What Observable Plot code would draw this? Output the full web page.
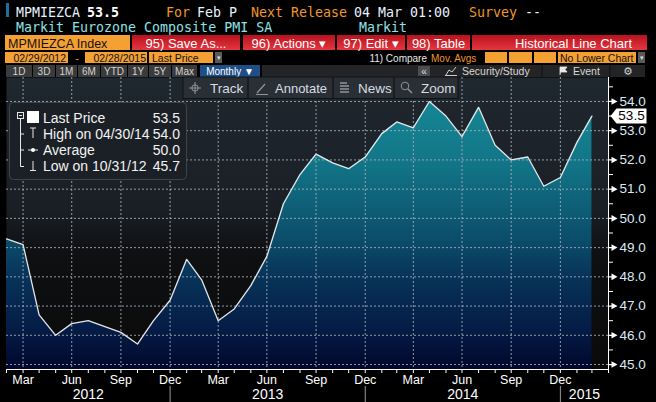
<!DOCTYPE html>
<html>
<head>
<meta charset="utf-8">
<script src="https://cdn.jsdelivr.net/npm/d3@7"></script>
<script src="https://cdn.jsdelivr.net/npm/@observablehq/plot@0.6"></script>
<style>
  html, body { margin: 0; padding: 0; background: #000; }
  #page { position: relative; width: 656px; height: 402px; overflow: hidden; background: #000; }
  #chart { position: absolute; left: 0; top: 77px; width: 656px; height: 325px; }
  #overlay { position: absolute; left: 0; top: 0; pointer-events: none; }
</style>
</head>
<body>
<div id="page"><div id="chart"></div><svg id="overlay" width="656" height="402"></svg></div>
<script>
// ---------------- data ----------------
const ticker = "MPMIEZCA";
const seriesName = "Markit Eurozone Composite PMI SA";
const source = "Markit";
// monthly observations, Feb 2012 ... Feb 2015 (month-end dates)
const pmi = [49.3, 49.1, 46.7, 46.0, 46.4, 46.5, 46.3, 46.1, 45.7, 46.5, 47.2,
  48.6, 47.9, 46.5, 46.9, 47.7, 48.7, 50.5, 51.5, 52.2, 51.9, 51.7, 52.1,
  52.9, 53.3, 53.1, 54.0, 53.5, 52.8, 53.8, 52.5, 52.0, 52.1, 51.1, 51.4,
  52.6, 53.5];
const monthNames = ["Jan","Feb","Mar","Apr","May","Jun","Jul","Aug","Sep","Oct","Nov","Dec"];
const labelledMonths = ["Mar","Jun","Sep","Dec"];
const years = ["2012","2013","2014","2015"];
const yTicks = [45, 46, 47, 48, 49, 50, 51, 52, 53, 54];
const yMinor = [45.5, 46.5, 47.5, 48.5, 49.5, 50.5, 51.5, 52.5, 53.5, 54.5];
const yDomain = [44.83, 54.82];
const legendNames = ["Last Price", "High on", "Average", "Low on"];
const rangeButtons = ["1D","3D","1M","6M","YTD","1Y","5Y","Max"];

// ---------------- derived ----------------
const SANS = "Liberation Sans, Arial, sans-serif";
const MONO = "DejaVu Sans Mono, Liberation Mono, monospace";
const monthEnd = k => d3.utcDay.offset(new Date(Date.UTC(2012, 2 + k, 1)), -1);
const data = pmi.map((v, k) => ({date: monthEnd(k), value: v}));
const xDomain = [monthEnd(0), monthEnd(pmi.length)];
const monthTicks = d3.range(pmi.length + 1).map(monthEnd);
const isLabelled = d => labelledMonths.includes(monthNames[d.getUTCMonth()]) && d < xDomain[1];
const quarterEnds = monthTicks.filter(isLabelled);
const fmtMonth = d => isLabelled(d) ? monthNames[d.getUTCMonth()] : "";
const yearBounds = years.slice(0, -1).map(y => new Date(Date.UTC(+y, 11, 31)));
const yearMid = years.map((y, i) => {
  const a = i === 0 ? xDomain[0] : yearBounds[i - 1];
  const b = i === years.length - 1 ? xDomain[1] : yearBounds[i];
  return new Date((+a + +b) / 2);
});
const W = 656, H = 325, MT = 0, MB = 33, ML = 6, MR = 48;
const unitsPerPx = (yDomain[1] - yDomain[0]) / (H - MT - MB);
const below = px => yDomain[0] - px * unitsPerPx;
const last = data[data.length - 1];
const hi = d3.greatest(data, d => d.value);
const lo = d3.least(data, d => d.value);
const avg = d3.mean(pmi);
const f1 = d3.format(".1f");
const fDate = d3.utcFormat("%m/%d/%y");

const arrowSym = {draw(c) {
  c.moveTo(0, -0.6); c.lineTo(3, -0.6); c.lineTo(3, -3.3); c.lineTo(9, 0);
  c.lineTo(3, 3.3); c.lineTo(3, 0.6); c.lineTo(0, 0.6); c.closePath();
}};
const flagSym = {draw(c) {
  c.moveTo(2, 0); c.lineTo(8, -7.5); c.lineTo(38, -7.5); c.lineTo(38, 7.5); c.lineTo(8, 7.5); c.closePath();
}};

function gradientDefs(index, scales, values, dims) {
  const top = dims.marginTop, bottom = dims.height - dims.marginBottom;
  const defs = d3.create("svg:defs");
  const add = (id, stops) => {
    const g = defs.append("linearGradient").attr("id", id).attr("gradientUnits", "userSpaceOnUse")
      .attr("x1", 0).attr("x2", 0).attr("y1", top).attr("y2", bottom);
    stops.forEach(([o, c]) => g.append("stop").attr("offset", o).attr("stop-color", c));
  };
  add("bgGrad", [[0, "#1f272f"], [0.45, "#1a1f25"], [0.6, "#0f1012"], [1, "#0a0a0a"]]);
  add("areaGrad", [[0, "#178c9a"], [0.29, "#127688"], [0.55, "#0b4e6b"], [0.68, "#08345a"], [0.87, "#041b45"], [1, "#02072c"]]);
  return defs.node();
}

const chart = Plot.plot({
  width: W, height: H,
  marginTop: MT, marginRight: MR, marginBottom: MB, marginLeft: ML,
  style: {background: "transparent", color: "#fff", fontFamily: SANS, fontSize: "13px", overflow: "visible"},
  x: {type: "utc", domain: xDomain},
  y: {domain: yDomain},
  marks: [
    gradientDefs,
    Plot.frame({fill: "url(#bgGrad)", stroke: "none"}),
    Plot.areaY(data, {x: "date", y1: () => yDomain[0], y2: "value", fill: "url(#areaGrad)"}),
    Plot.ruleY(yTicks, {stroke: "#a9b2ba", strokeDasharray: "2,2", strokeOpacity: 0.85}),
    Plot.ruleX(quarterEnds, {stroke: "#a9b2ba", strokeDasharray: "2,2", strokeOpacity: 0.85}),
    Plot.lineY(data, {x: "date", y: "value", stroke: "#e6e6e6", strokeWidth: 1.3}),
    Plot.ruleY([yDomain[0]], {stroke: "#fff"}),
    Plot.ruleX([xDomain[1]], {stroke: "#fff"}),
    Plot.axisX({ticks: monthTicks, tickSize: 4, tickPadding: 2, tickFormat: fmtMonth, color: "#fff", fontSize: 12.5, label: null}),
    Plot.ruleX(yearBounds, {x: d => d, y1: () => below(17), y2: () => below(33), stroke: "#9a9a9a"}),
    Plot.text(years, {x: (d, i) => yearMid[i], y: () => yDomain[0], dy: 25, text: d => d, fill: "#fff", fontSize: 14}),
    Plot.axisY({anchor: "right", ticks: yMinor, tickSize: 4, tickFormat: () => "", color: "#fff", label: null}),
    Plot.axisY({anchor: "right", ticks: yTicks, tickSize: 0, tickPadding: 11, tickFormat: f1, fill: "#dce8f5", fontSize: 13.5, label: null}),
    Plot.dot(yTicks, {y: d => d, frameAnchor: "right", symbol: arrowSym, fill: "#fff", stroke: "none"}),
    Plot.dot([last], {y: "value", frameAnchor: "right", symbol: flagSym, fill: "#fff", stroke: "none"}),
    Plot.text([last], {y: "value", frameAnchor: "right", dx: 23, textAnchor: "middle", text: d => f1(d.value), fill: "#000", fontSize: 13.5})
  ]
});
document.getElementById("chart").appendChild(chart);

// ---------------- terminal header & overlays ----------------
const ov = d3.select("#overlay");
const defs = ov.append("defs");
const red = defs.append("linearGradient").attr("id", "redBtn").attr("x1", 0).attr("x2", 0).attr("y1", 0).attr("y2", 1);
red.append("stop").attr("offset", 0).attr("stop-color", "#b8121e");
red.append("stop").attr("offset", 1).attr("stop-color", "#e4363f");

function T(x, y, s, o = {}) {
  return ov.append("text").attr("x", x).attr("y", y).text(s)
    .attr("fill", o.fill || "#fff").attr("font-size", o.size || 13)
    .attr("font-family", o.font || SANS).attr("font-weight", o.weight || null)
    .attr("text-anchor", o.anchor || "start");
}
function R(x, y, w, h, fill, o = {}) {
  return ov.append("rect").attr("x", x).attr("y", y).attr("width", w).attr("height", h)
    .attr("fill", fill).attr("stroke", o.stroke || "none").attr("rx", o.rx || 0);
}
const ORANGE = "#f0962a";
// row 1
R(6, 3, 3, 14, "#1d6f9e");
T(16, 17, ticker, {font: MONO, size: 13.3, fill: "#e6f2ff"});
T(87, 17, f1(last.value), {font: MONO, size: 13.3, fill: "#fff", weight: "bold"});
T(166, 17, "For", {font: MONO, size: 13.3, fill: ORANGE});
T(197, 17, "Feb P", {font: MONO, size: 13.3, fill: "#e6f2ff"});
T(251, 17, "Next Release", {font: MONO, size: 13.3, fill: ORANGE});
T(354, 17, "04 Mar 01:00", {font: MONO, size: 13.3, fill: "#e6f2ff"});
T(469, 17, "Survey", {font: MONO, size: 13.3, fill: ORANGE});
T(525, 17, "--", {font: MONO, size: 13.3, fill: "#e6f2ff"});
// row 2
T(16, 32, seriesName, {font: MONO, size: 13.3, fill: "#8fe1e6"});
T(359, 32, source, {font: MONO, size: 13.3, fill: "#8fe1e6"});
// row 3 toolbar
R(5, 35, 125, 15, "#f5a033");
T(8, 48, ticker + " Index", {size: 12.5, fill: "#111"});
[[132, 240, "95) Save As..."], [243, 335, "96) Actions \u25BE"], [337, 405, "97) Edit \u25BE"], [407, 470, "98) Table"]]
  .forEach(([a, b, s]) => { R(a, 35, b - a, 15, "url(#redBtn)"); T((a + b) / 2, 48, s, {size: 13, anchor: "middle"}); });
R(472, 35, 175, 15, "url(#redBtn)");
T(632, 48, "Historical Line Chart", {size: 13, anchor: "end"});
// row 4
R(5, 52, 63, 11, "#f5a033"); T(66, 61.5, "02/29/2012", {size: 10.5, fill: "#111", anchor: "end"});
T(77, 61.5, "-", {size: 11, fill: ORANGE, anchor: "middle"});
R(85, 52, 62, 11, "#f5a033"); T(146, 61.5, "02/28/2015", {size: 10.5, fill: "#111", anchor: "end"});
R(149, 52, 64, 11, "#f5a033"); T(152, 61.5, "Last Price", {size: 10.5, fill: "#111"});
R(215, 52, 7, 11, "#5a5a5a"); T(218.5, 60, "\u25BE", {size: 7, fill: "#ddd", anchor: "middle"});
T(427, 61.5, "11) Compare", {size: 10, fill: "#e8e8e8", anchor: "end"});
T(431, 61.5, "Mov. Avgs", {size: 10, fill: ORANGE});
[[485, 507], [509, 532], [534, 556]].forEach(([a, b]) => R(a, 52, b - a, 11, "#f5a033"));
R(558, 52, 78, 11, "#f5a033"); T(560, 61.5, "No Lower Chart", {size: 10.5, fill: "#111"});
R(638, 52, 7, 11, "#5a5a5a"); T(641.5, 60, "\u25BE", {size: 7, fill: "#ddd", anchor: "middle"});
// row 5
const btnEdges = [6, 33, 56, 78, 101, 128, 149, 172, 198];
rangeButtons.forEach((s, i) => {
  R(btnEdges[i], 65, btnEdges[i + 1] - btnEdges[i] - 1, 12, "#3a3b3c");
  T((btnEdges[i] + btnEdges[i + 1] - 1) / 2, 74.5, s, {size: 10, fill: "#d2d2d2", anchor: "middle"});
});
R(200, 65, 60, 12, "#1e4e86");
T(230, 74.5, "Monthly \u25BC", {size: 10, fill: "#fff", anchor: "middle"});
R(262, 65, 383, 12, "#232425");
R(418, 66, 12, 10, "#4c4d4e"); T(424, 74.5, "\u00AB", {size: 10, fill: "#ddd", anchor: "middle"});
ov.append("line").attr("x1", 542).attr("x2", 542).attr("y1", 65).attr("y2", 77).attr("stroke", "#111");
ov.append("line").attr("x1", 610).attr("x2", 610).attr("y1", 65).attr("y2", 77).attr("stroke", "#111");
ov.append("path").attr("d", "M446,75 L449,70 L452,72 L456,67 M445,75.5 H457").attr("stroke", "#cfcfcf").attr("fill", "none");
T(462, 74.5, "Security/Study", {size: 10.5, fill: "#d8d8d8"});
ov.append("path").attr("d", "M560,75 V67 H567 L565,69.5 L567,72 H561").attr("fill", "#e8e8e8").attr("stroke", "#e8e8e8").attr("stroke-width", 0.8);
T(573, 74.5, "Event", {size: 10.5, fill: "#d8d8d8"});
T(628, 75, "\u2699", {size: 11, fill: "#cfcfcf", anchor: "middle", font: "DejaVu Sans, sans-serif"});

// chart toolbar (Track / Annotate / News / Zoom)
R(183, 77, 275, 21.5, "#2a2f35").attr("stroke", "#101214");
[248, 333, 394].forEach(x => ov.append("line").attr("x1", x).attr("x2", x).attr("y1", 77).attr("y2", 98.5).attr("stroke", "#15181b").attr("stroke-width", 1.5));
const IC = "#8d959c";
ov.append("circle").attr("cx", 195).attr("cy", 88).attr("r", 3.2).attr("fill", "none").attr("stroke", IC);
ov.append("path").attr("d", "M189,88 H201 M195,82 V94").attr("stroke", IC);
T(210, 93, "Track", {size: 13.5, fill: "#d5dce3"});
ov.append("path").attr("d", "M257,93 L265,84 M256,94.5 H268").attr("stroke", IC).attr("stroke-width", 1.2);
T(275, 93, "Annotate", {size: 13, fill: "#d5dce3"});
ov.append("path").attr("d", "M340,83 H347 M340,86 H349 M340,89 H349 M340,92 H349").attr("stroke", IC).attr("stroke-width", 1.3);
T(358, 93, "News", {size: 13.5, fill: "#d5dce3"});
ov.append("circle").attr("cx", 405).attr("cy", 86).attr("r", 3.8).attr("fill", "none").attr("stroke", IC);
ov.append("path").attr("d", "M408,89 L412,93").attr("stroke", IC).attr("stroke-width", 1.5);
T(421, 93, "Zoom", {size: 13.5, fill: "#d5dce3"});

// legend box
R(9.5, 102.5, 177, 77, "#1b2026", {stroke: "#3e444a", rx: 4});
const L = ov.append("g").attr("stroke", "#e8e8e8").attr("fill", "none");
L.append("rect").attr("x", 17.5).attr("y", 112.5).attr("width", 6).attr("height", 6);
L.append("path").attr("d", "M19,115.5 H22 M20.5,118.5 V166.5 H24 M20.5,134 H24 M20.5,150 H24");
ov.append("rect").attr("x", 27).attr("y", 111).attr("width", 12).attr("height", 12).attr("fill", "#fff");
L.append("path").attr("d", "M30,128 H36 M33,128 V138");
L.append("path").attr("d", "M28,150 H38");
ov.append("circle").attr("cx", 33).attr("cy", 150).attr("r", 2).attr("fill", "#fff");
L.append("path").attr("d", "M33,161 V170.5 M30,170.5 H36");
const rows = [
  [legendNames[0], f1(last.value)],
  [legendNames[1] + " " + fDate(hi.date), f1(hi.value)],
  [legendNames[2], f1(avg)],
  [legendNames[3] + " " + fDate(lo.date), f1(lo.value)]
];
rows.forEach(([a, b], i) => {
  T(43, 123 + 16 * i, a, {size: 14, fill: "#f2f2f2"});
  T(180, 123 + 16 * i, b, {size: 14, fill: "#f2f2f2", anchor: "end"});
});
</script>
</body>
</html>
